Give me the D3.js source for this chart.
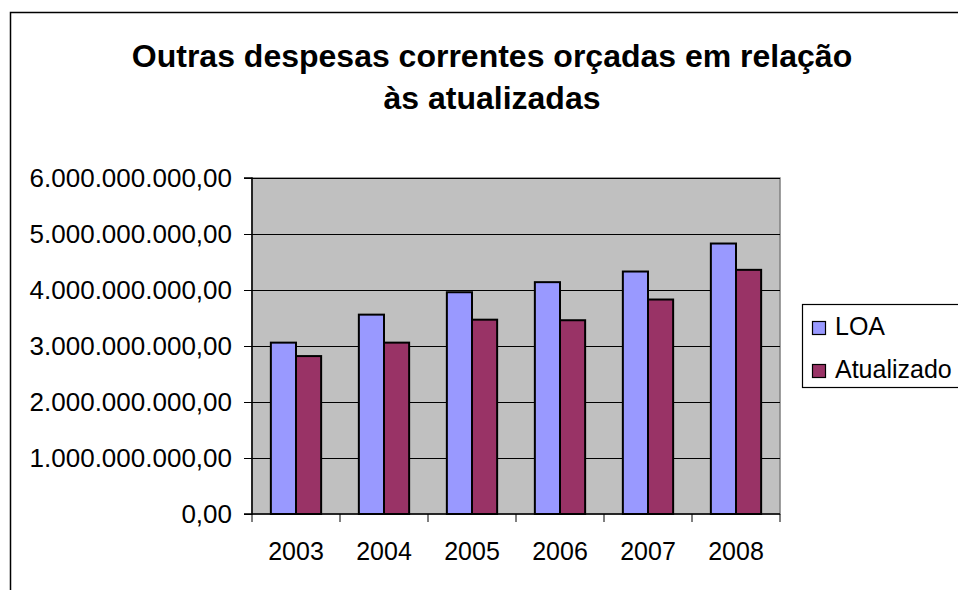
<!DOCTYPE html>
<html><head><meta charset="utf-8">
<script src="https://cdn.jsdelivr.net/npm/d3@7"></script>
<style>body{margin:0;background:#fff}svg{display:block}text{font-family:"Liberation Sans",Arial,sans-serif}</style>
</head><body>
<svg id="c" width="958" height="590"></svg>
<script>
const years = ["2003","2004","2005","2006","2007","2008"];
const seriesNames = ["LOA","Atualizado"];
const loa = [3060000000,3560000000,3960000000,4140000000,4330000000,4830000000];
const atualizado = [2820000000,3060000000,3470000000,3460000000,3830000000,4360000000];
const yTicks = [0,1e9,2e9,3e9,4e9,5e9,6e9];
const colors = ["#9999FF","#993366"];
const titleLines = ["Outras despesas correntes orçadas em relação","às atualizadas"];

const svg = d3.select("#c");
const plot = {l:252, r:780, t:178, b:514};

// outer chart border
svg.append("rect").attr("x",10.5).attr("y",12.5).attr("width",1000).attr("height",700)
  .attr("fill","#fff").attr("stroke","#000").attr("stroke-width",1.5);

// title
const title = svg.append("text").attr("text-anchor","middle").attr("font-weight","bold").attr("font-size",32).attr("fill","#000");
titleLines.forEach((t,i)=>title.append("tspan").attr("x",492).attr("y",67+i*42).text(t));

const x0 = d3.scaleBand().domain(years).range([plot.l,plot.r]).padding(0);
const x1 = d3.scaleBand().domain(seriesNames).range([0,x0.bandwidth()]).paddingInner(0).paddingOuter(0.75);
const y = d3.scaleLinear().domain([0,6e9]).range([plot.b,plot.t]);
const loc = d3.formatLocale({decimal:",",thousands:".",grouping:[3],currency:["R$",""]});
const fmt = loc.format(",.2f");

// plot background
svg.append("rect").attr("x",plot.l).attr("y",plot.t).attr("width",plot.r-plot.l).attr("height",plot.b-plot.t)
  .attr("fill","#C0C0C0").attr("stroke","#808080").attr("stroke-width",1.5);

// gridlines
svg.append("g").selectAll("line").data(yTicks.filter(d=>d>0)).join("line")
  .attr("x1",plot.l).attr("x2",plot.r).attr("y1",d=>Math.round(y(d))+0.5).attr("y2",d=>Math.round(y(d))+0.5)
  .attr("stroke","#000").attr("stroke-width",1);

// bars
const data = years.map((yr,i)=>({yr, vals:[loa[i],atualizado[i]]}));
const g = svg.append("g").selectAll("g").data(data).join("g").attr("transform",d=>`translate(${x0(d.yr)},0)`);
g.selectAll("rect").data(d=>d.vals.map((v,j)=>({name:seriesNames[j],v,j}))).join("rect")
  .attr("x",d=>x1(d.name)).attr("width",x1.bandwidth())
  .attr("y",d=>y(d.v)).attr("height",d=>y(0)-y(d.v))
  .attr("fill",d=>colors[d.j]).attr("stroke","#000").attr("stroke-width",2);

// y axis
const yAxis = d3.axisLeft(y).tickValues(yTicks).tickFormat(fmt).tickSize(8).tickPadding(12);
const ya = svg.append("g").attr("transform",`translate(${plot.l},0)`).call(yAxis);
ya.select(".domain").attr("stroke","#000").attr("stroke-width",1.5).attr("d",`M-8,${plot.t}H0V${plot.b}H-8`);
ya.selectAll(".tick line").attr("stroke","#000");
ya.selectAll("text").attr("font-size",26).attr("font-family","Liberation Sans, Arial, sans-serif").attr("fill","#000");

// x axis
const xa = svg.append("g").attr("transform",`translate(0,${plot.b})`);
xa.append("line").attr("x1",plot.l).attr("x2",plot.r).attr("y1",0).attr("y2",0).attr("stroke","#000").attr("stroke-width",1.5);
const bounds = years.map(d=>x0(d)).concat([plot.r]);
xa.selectAll("line.t").data(bounds).join("line").attr("class","t")
  .attr("x1",d=>d).attr("x2",d=>d).attr("y1",0).attr("y2",8).attr("stroke","#000");
xa.selectAll("text").data(years).join("text")
  .attr("x",d=>x0(d)+x0.bandwidth()/2).attr("y",46).attr("text-anchor","middle")
  .attr("font-size",25).attr("fill","#000").text(d=>d);

// legend
const lg = svg.append("g");
lg.append("rect").attr("x",802.5).attr("y",304.5).attr("width",200).attr("height",83)
  .attr("fill","#fff").attr("stroke","#000").attr("stroke-width",1.2);
seriesNames.forEach((s,i)=>{
  lg.append("rect").attr("x",812.5).attr("y",321.5+i*43).attr("width",13).attr("height",13)
    .attr("fill",colors[i]).attr("stroke","#000").attr("stroke-width",1.2);
  lg.append("text").attr("x",835).attr("y",335+i*43).attr("font-size",25).attr("fill","#000").text(s);
});
</script>
</body></html>
